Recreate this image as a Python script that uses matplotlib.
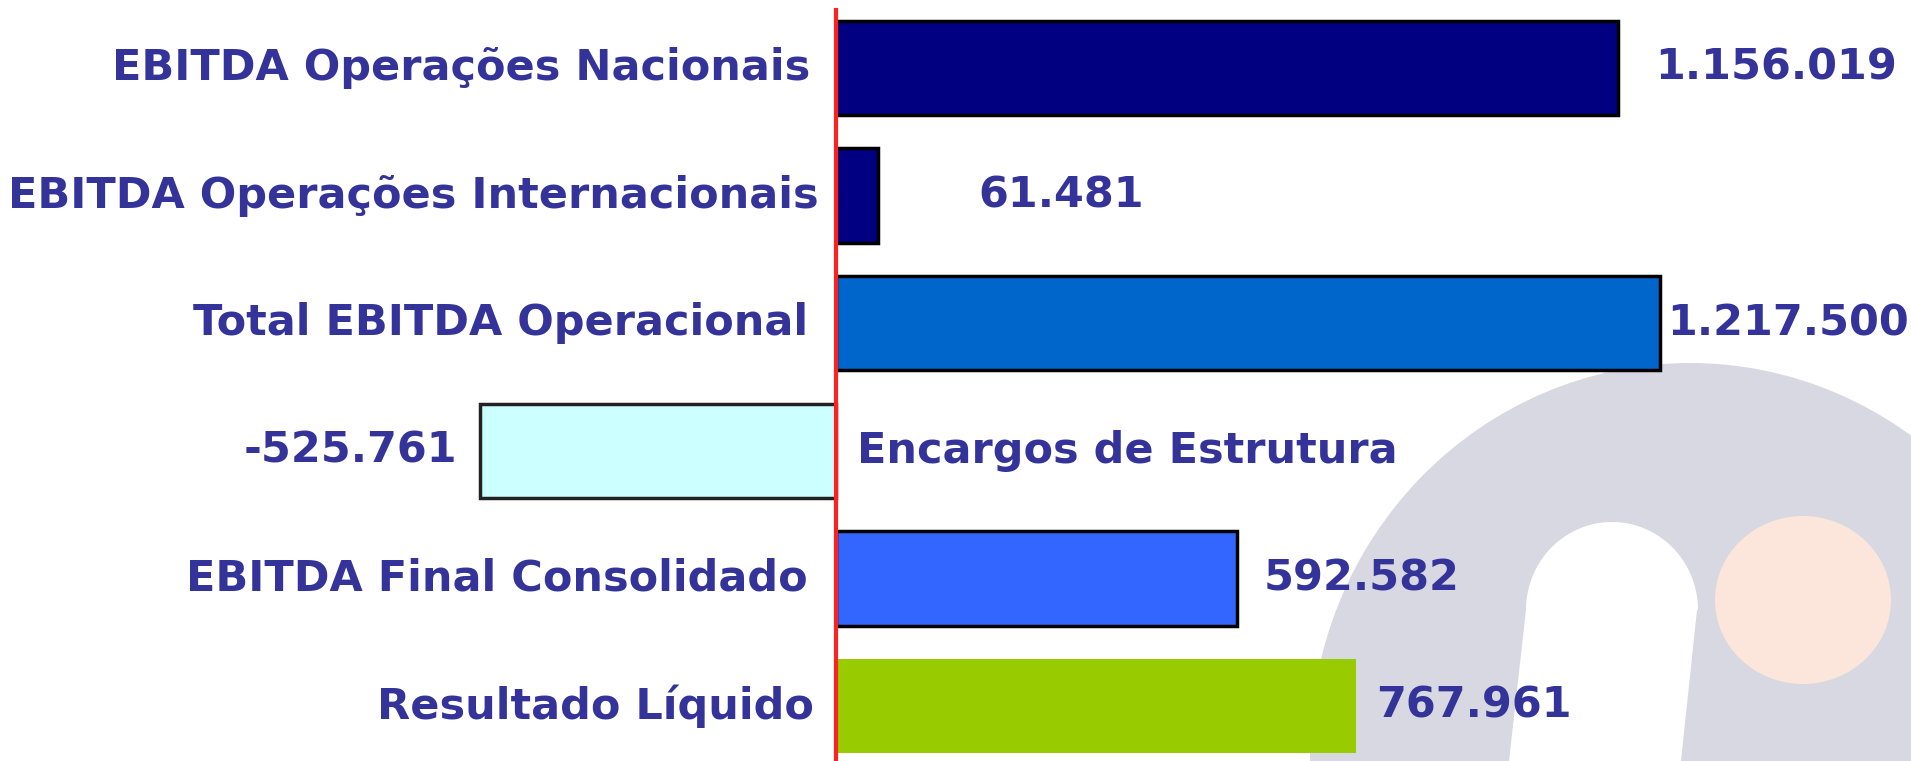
import numpy as np
import matplotlib
matplotlib.use("Agg")
import matplotlib.pyplot as plt
from matplotlib.patches import Ellipse, Polygon

# dados (milhares de euros)
categorias = ["EBITDA Operações Nacionais",
              "EBITDA Operações Internacionais",
              "Total EBITDA Operacional",
              "Encargos de Estrutura",
              "EBITDA Final Consolidado",
              "Resultado Líquido"]
valores = [1156019, 61481, 1217500, -525761, 592582, 767961]
rotulos = ["1.156.019", "61.481", "1.217.500", "-525.761", "592.582", "767.961"]

cores = ["#000080", "#000080", "#0066CC", "#CCFFFF", "#3366FF", "#99CC00"]
bordas = ["black", "black", "black", "#222222", "black", "none"]
# deslocamentos (px) dos rótulos, como no slide original
desloc_valor = [37, 101, 7, -23, 27, 20]
desloc_cat = [-26, -17, -28, 21, -28, -22]

W, H = 1911, 761
cor_texto = "#333399"
fonte = dict(family="DejaVu Sans", weight="bold", size=31, color=cor_texto)

fig = plt.figure(figsize=(W / 100, H / 100), dpi=100)
fig.patch.set_facecolor("white")

# marca de água no fundo (coordenadas em pixels)
bg = fig.add_axes([0, 0, 1, 1])
bg.set_xlim(0, W)
bg.set_ylim(H, 0)
bg.axis("off")
cinza = "#D8D8E2"
bg.add_patch(Ellipse((1690, 752), 760, 778, color=cinza, lw=0))
t = np.linspace(np.pi, 2 * np.pi, 60)
topo = np.column_stack([1612 + 86 * np.cos(t), 610 + 88 * np.sin(t)])
furo = np.vstack([[[1508, 770]], [[1526, 610]], topo, [[1697, 610]], [[1680, 770]]])
bg.add_patch(Polygon(furo, closed=True, color="white", lw=0))
bg.add_patch(Ellipse((1803, 600), 176, 168, color="#FCE6DC", lw=0))

# gráfico de barras
ax = fig.add_axes([0, 0, 1, 1], facecolor="none")
px_por_unid = 824 / max(valores)
x0 = 836
ax.set_xlim(-x0 / px_por_unid, (W - x0) / px_por_unid)
n = len(valores)
y = np.arange(n)
passo = (706 - 68) / (n - 1)
ax.set_ylim(n - 1 + (H - 706) / passo, -68 / passo)
ax.axis("off")

ax.barh(y, valores, height=0.74, color=cores, edgecolor=bordas, linewidth=2.5, zorder=2)
ax.axvline(0, ymin=0, ymax=1 - 10 / H, color="#FF2020", lw=3, zorder=3)

for i, (cat, v, r) in enumerate(zip(categorias, valores, rotulos)):
    lado_cat = "left" if v < 0 else "right"
    lado_val = "right" if v < 0 else "left"
    ax.annotate(cat, (0, i), xytext=(desloc_cat[i], 0), textcoords="offset pixels",
                ha=lado_cat, va="center", **fonte)
    ax.annotate(r, (v, i), xytext=(desloc_valor[i], 0), textcoords="offset pixels",
                ha=lado_val, va="center", **fonte)

fig.savefig("out.png", dpi=100)
